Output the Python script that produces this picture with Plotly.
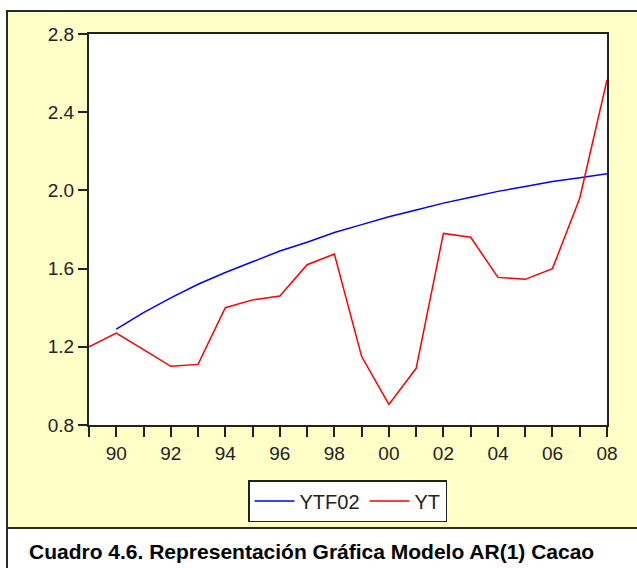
import plotly.graph_objects as go

years = list(range(1989, 2009))
yt = [1.20, 1.27, 1.185, 1.10, 1.11, 1.40, 1.44, 1.46, 1.62, 1.675, 1.15, 0.905,
      1.09, 1.78, 1.76, 1.555, 1.545, 1.60, 1.96, 2.565]
ytf02 = [None, 1.29, 1.375, 1.45, 1.52, 1.58, 1.635, 1.69, 1.735, 1.785, 1.825,
         1.865, 1.90, 1.935, 1.965, 1.995, 2.02, 2.045, 2.065, 2.085]
x_ticktext = ["" if y % 2 else f"{y % 100:02d}" for y in years]
y_ticks = [0.8, 1.2, 1.6, 2.0, 2.4, 2.8]
caption = "Cuadro 4.6. Representación Gráfica Modelo AR(1) Cacao"

W, H = 637, 568
L, R, T, B = 89, 607, 34, 425
pw, ph = R - L, B - T

def px(x):
    return (x - L) / pw

def py(y):
    return (B - y) / ph

fig = go.Figure()
fig.add_trace(go.Scatter(x=years, y=ytf02, mode="lines", name="YTF02",
                         line=dict(color="#0000FF", width=1.5)))
fig.add_trace(go.Scatter(x=years, y=yt, mode="lines", name="YT",
                         line=dict(color="#FF0000", width=1.5)))

shapes = [
    dict(type="rect", xref="paper", yref="paper", x0=px(7), x1=px(660), y0=py(528), y1=py(11),
         fillcolor="#FFFFC8", line=dict(color="#2a2a2a", width=2), layer="below"),
    dict(type="rect", xref="paper", yref="paper", x0=0, x1=1, y0=0, y1=1,
         fillcolor="white", line=dict(width=0), layer="below"),
    dict(type="line", xref="paper", yref="paper", x0=px(7), x1=px(7), y0=py(528), y1=py(580),
         line=dict(color="#2a2a2a", width=2)),
]

fig.update_layout(
    width=W, height=H,
    margin=dict(l=L, r=W - R, t=T, b=H - B),
    paper_bgcolor="white", plot_bgcolor="white",
    font=dict(family="Liberation Sans, Arial", color="#222222"),
    shapes=shapes,
    showlegend=True,
    legend=dict(orientation="h", x=px(347.5), xanchor="center", y=py(480), yanchor="top",
                bgcolor="white", bordercolor="#222222", borderwidth=1.5,
                font=dict(size=20, color="#222222"), itemwidth=40),
    annotations=[dict(text="<b>" + caption + "</b>", xref="paper", yref="paper",
                      x=px(27), y=py(551), xanchor="left", yanchor="middle", showarrow=False,
                      font=dict(size=21, color="black", family="Liberation Sans, Arial"))],
)
fig.update_xaxes(range=[1989, 2008], tickmode="array", tickvals=years, ticktext=x_ticktext,
                 ticks="outside", ticklen=10, tickwidth=2, tickcolor="#222222",
                 showline=True, linecolor="#222222", linewidth=2, mirror=True,
                 showgrid=False, zeroline=False, tickfont=dict(size=19))
fig.update_yaxes(range=[0.8, 2.8], tickmode="array", tickvals=y_ticks,
                 ticktext=[f"{v:.1f}" for v in y_ticks],
                 ticks="outside", ticklen=9, tickwidth=2, tickcolor="#222222",
                 showline=True, linecolor="#222222", linewidth=2, mirror=True,
                 showgrid=False, zeroline=False, tickfont=dict(size=19))

fig.write_html("out.html", config={"displayModeBar": False},
               post_script="document.body.style.margin='0';document.body.style.overflow='hidden';")
